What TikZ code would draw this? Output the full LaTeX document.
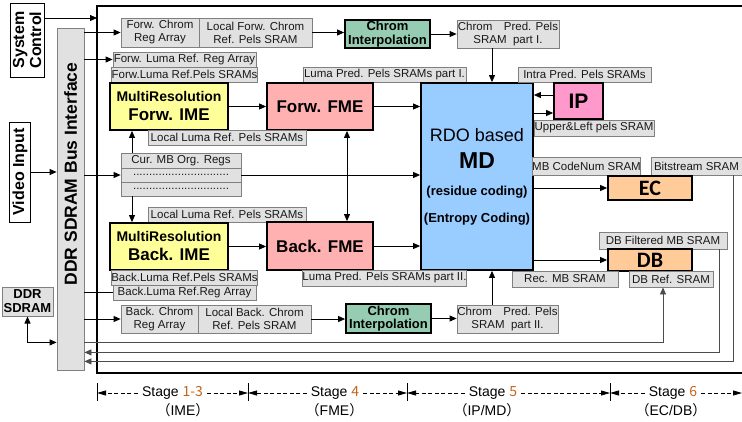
\documentclass[tikz,border=0pt]{standalone}
\usepackage{fontspec}
\setmainfont{Liberation Sans}
\newfontfamily\cjkfont{Noto Sans CJK SC}
\newfontfamily\calfont{Carlito}
\usepackage{xcolor}
\usetikzlibrary{arrows.meta}

\definecolor{lblgray}{RGB}{225,225,225}
\definecolor{edgegray}{RGB}{128,128,128}
\definecolor{imeyellow}{RGB}{255,255,153}
\definecolor{fmepink}{RGB}{255,176,176}
\definecolor{rdoblue}{RGB}{153,204,255}
\definecolor{ippink}{RGB}{255,153,204}
\definecolor{ecorange}{RGB}{255,204,153}
\definecolor{cigreen}{RGB}{150,204,178}
\definecolor{stagenum}{RGB}{195,100,25}

\newcommand{\fsize}[2]{\fontsize{#1}{#2}\selectfont}
\newcommand{\stnum}[1]{{\cjkfont\color{stagenum}#1}}
\newcommand{\stparen}[1]{{\cjkfont （}#1{\cjkfont ）}}

\begin{document}
\begin{tikzpicture}[x=1pt,y=-1pt,
  >={Triangle[length=7pt,width=6pt]},
  lbl/.style={draw=edgegray,fill=lblgray,line width=0.8pt,inner sep=0pt,
    align=center,text=black!90,font=\fsize{11.5}{13}},
  blk/.style={draw,line width=1.8pt,inner sep=0pt,align=center},
  side/.style={draw,line width=1pt,rotate=90,inner sep=0pt,align=center,
    font=\bfseries\fsize{16}{17}},
  arr/.style={->,line width=0.8pt},
  back/.style={->,draw=black!70,line width=0.8pt},
  stg/.style={font=\fsize{14}{16},inner sep=4pt},
  stgarr/.style={-{Triangle[length=9pt,width=5pt]},dash pattern=on 4pt off 2.5pt,line width=0.8pt}]

\useasboundingbox (0,0) rectangle (742,421);

% frame of the encoder core
\draw[line width=2pt] (742,6) -| (97,373) -- (742,373);

% outside world and bus
\node[side,minimum width=74pt,minimum height=34pt] (sc) at (27,40) {System\\Control};
\node[side,minimum width=100pt,minimum height=21pt] (vi) at (20,172) {Video Input};
\node[draw=edgegray,fill=lblgray,line width=1pt,minimum width=51pt,minimum height=29pt,
  inner sep=0pt,align=center,font=\bfseries\fsize{13}{14}] (ddr) at (27.5,301.5) {DDR\\SDRAM};
\node[draw=edgegray,fill=lblgray,line width=0.8pt,minimum width=27pt,minimum height=342pt] (bus) at (70.5,199) {};
\node[rotate=90,font=\bfseries\fsize{17.5}{18}] (bustxt) at (70.5,174) {DDR SDRAM Bus Interface};
\coordinate (scin) at (97,18);

% forward chroma
\node[lbl,minimum width=78pt,minimum height=29pt] (fcra) at (160,32.5) {Forw. Chrom\\Reg Array};
\node[lbl,minimum width=113pt,minimum height=29pt] (lfcr) at (255.5,32.5) {Local Forw. Chrom\\Ref. Pels SRAM};
\node[blk,fill=cigreen,minimum width=85pt,minimum height=28pt,font=\bfseries\fsize{13}{13.5}] (ci1) at (387.5,34) {Chrom\\Interpolation};
\node[lbl,minimum width=102pt,minimum height=28pt] (cpp1) at (508,34) {Chrom\quad Pred. Pels\\SRAM\ \ part I.};

% forward luma
\node[lbl,minimum width=143pt,minimum height=15pt] (flrr) at (184.5,59.5) {Forw. Luma Ref. Reg Array};
\node[lbl,minimum width=143pt,minimum height=15pt] (flrp) at (184.5,74.5) {Forw.Luma Ref.Pels SRAMs};
\node[lbl,minimum width=163pt,minimum height=15pt] (lpp1) at (384.5,74.5) {Luma Pred. Pels SRAMs part I.};
\node[blk,fill=imeyellow,minimum width=118pt,minimum height=47pt,font=\bfseries\fsize{14}{19}] (imef) at (169,106.5) {MultiResolution\\{\fsize{17}{19}Forw. IME}};
\node[blk,fill=fmepink,minimum width=106pt,minimum height=47pt,font=\bfseries\fsize{17}{19}] (fmef) at (320,106.5) {Forw. FME};
\node[lbl,minimum width=158pt,minimum height=15pt] (llf) at (227,137.5) {Local Luma Ref. Pels SRAMs};

% current MB
\node[lbl,minimum width=120pt,minimum height=15pt] (cmb1) at (181,160.5) {Cur. MB Org. Regs};
\node[lbl,minimum width=120pt,minimum height=14pt] (cmb2) at (181,175) {..............................};
\node[lbl,minimum width=120pt,minimum height=14pt] (cmb3) at (181,189) {..............................};

% mode decision and its neighbours
\node[blk,fill=rdoblue,minimum width=112pt,minimum height=187pt,font=\bfseries\fsize{13}{27}] (rdo) at (477,176.5)
  {{\mdseries\fsize{18}{27}RDO based}\\{\fsize{23}{27}MD}\\(residue coding)\\(Entropy Coding)};
\node[lbl,minimum width=133pt,minimum height=15pt] (ipps) at (584.5,74.5) {Intra Pred. Pels SRAMs};
\node[blk,fill=ippink,minimum width=49pt,minimum height=36pt,font=\bfseries\fsize{21}{22}] (ip) at (578.5,101) {IP};
\node[lbl,minimum width=120pt,minimum height=16pt] (ulps) at (594,128) {Upper\&Left\ pels SRAM};
\node[lbl,minimum width=105pt,minimum height=18pt] (mbcn) at (586.5,166) {MB CodeNum SRAM};
\node[lbl,minimum width=91pt,minimum height=18pt] (bits) at (696.5,166) {Bitstream SRAM};
\node[blk,fill=ecorange,minimum width=84pt,minimum height=24pt,font=\calfont\bfseries\fsize{22}{22}] (ec) at (650,188) {EC};
\node[lbl,minimum width=128pt,minimum height=17pt] (dbf) at (663,240.5) {DB Filtered MB SRAM};
\node[blk,fill=ecorange,minimum width=84pt,minimum height=22pt,font=\calfont\bfseries\fsize{22}{22}] (db) at (650,260) {DB};
\node[lbl,minimum width=106pt,minimum height=16pt] (recm) at (565,279) {Rec. MB SRAM};
\node[lbl,minimum width=84pt,minimum height=16pt] (dbrs) at (671,279) {DB Ref. SRAM};

% backward luma
\node[lbl,minimum width=158pt,minimum height=15pt] (llb) at (227,214.5) {Local Luma Ref. Pels SRAMs};
\node[blk,fill=imeyellow,minimum width=118pt,minimum height=47pt,font=\bfseries\fsize{14}{19}] (imeb) at (169,246.5) {MultiResolution\\{\fsize{17}{19}Back. IME}};
\node[blk,fill=fmepink,minimum width=106pt,minimum height=48pt,font=\bfseries\fsize{17}{19}] (fmeb) at (320,246) {Back. FME};
\node[lbl,minimum width=143pt,minimum height=15pt] (blrp) at (184.5,277.5) {Back.Luma Ref.Pels SRAMs};
\node[lbl,minimum width=143pt,minimum height=15pt] (blrr) at (184.5,292.5) {Back.Luma Ref.Reg Array};
\node[lbl,minimum width=163pt,minimum height=16pt] (lpp2) at (384.5,278) {Luma Pred. Pels SRAMs part II.};

% backward chroma
\node[lbl,minimum width=77pt,minimum height=28pt] (bcra) at (159.5,319) {Back. Chrom\\Reg Array};
\node[lbl,minimum width=113pt,minimum height=28pt] (lbcr) at (254.5,319) {Local Back. Chrom\\Ref. Pels SRAM};
\node[blk,fill=cigreen,minimum width=85pt,minimum height=29pt,font=\bfseries\fsize{13}{13.5}] (ci2) at (388.5,318.5) {Chrom\\Interpolation};
\node[lbl,minimum width=101pt,minimum height=28pt] (cpp2) at (507.5,319) {Chrom\quad Pred. Pels\\SRAM\ \ part II.};

% bus connections
\draw[arr] (sc.south |- scin) -- (scin);
\draw[arr] (vi.south) -- (vi.south -| bus.west);
\draw[arr,<->] (ddr.south) |- ([yshift=28pt]bus.south west);
\draw[arr] (bus.east |- fcra.west) -- (fcra.west);
\draw[arr] (bus.east |- flrr.west) -- (flrr.west);
\draw[arr] (bus.east |- cmb2.west) -- (cmb2.west);
\draw[line width=0.8pt] (bus.east |- blrr.west) -- (blrr.west);
\draw[arr] (bus.east |- bcra.west) -- (bcra.west);

% chroma paths
\draw[arr] (lfcr.east) -- (lfcr.east -| ci1.west);
\draw[arr] (ci1.east) -- (ci1.east -| cpp1.west);
\draw[arr] ([xshift=-16pt]cpp1.south) -- ([xshift=-16pt]cpp1.south |- rdo.north);
\draw[arr] (lbcr.east) -- (lbcr.east -| ci2.west);
\draw[arr] (ci2.east) -- (ci2.east -| cpp2.west);
\draw[arr] ([xshift=-15.5pt]cpp2.north) -- ([xshift=-15.5pt]cpp2.north |- rdo.south);

% luma paths
\draw[arr] ([xshift=-49pt]cmb1.north) -- ([xshift=-49pt]cmb1.north |- imef.south);
\draw[arr] ([xshift=-49pt]cmb3.south) -- ([xshift=-49pt]cmb3.south |- imeb.north);
\draw[arr] (imef.east) -- (imef.east -| fmef.west);
\draw[arr] (imeb.east) -- (imeb.east -| fmeb.west);
\draw[arr] (fmef.east) -- (fmef.east -| rdo.west);
\draw[arr] (fmeb.east) -- (fmeb.east -| rdo.west);
\draw[arr] (cmb2.east) -- (cmb2.east -| rdo.west);
\draw[arr,<->] ([xshift=27pt]fmef.south) -- ([xshift=27pt]fmeb.north);

% MD outputs
\draw[arr] ([yshift=6pt]ip.west) -- ([yshift=6pt]ip.west -| rdo.east);
\draw[arr] ([yshift=-12pt]ip.west -| rdo.east) -- ([yshift=-12pt]ip.west);
\draw[arr] (ec.west -| rdo.east) -- (ec.west);
\draw[arr] (db.west -| rdo.east) -- (db.west);

% back to the bus
\draw[back] ([yshift=28pt]bus.south east) -| ([xshift=-8pt]dbrs.south);
\draw[back] ([xshift=56pt]dbf.south) |- ([yshift=18pt]bus.south east);
\draw[back] ([xshift=36.5pt]bits.south) |- ([yshift=9pt]bus.south east);

% pipeline stages
\foreach \x/\n in {97/a,248/b,407/c,610/d}{
  \draw[line width=0.8pt] (\x,383) -- (\x,401);
  \coordinate (tk\n) at (\x,393);
}
\coordinate (tke) at (742,393);

\node[stg] (st1) at (172.5,393) {Stage \stnum{1-3}};
\node[stg] (pr1) at (183,410) {\stparen{IME}};
\node[stg] (st2) at (335,393) {Stage \stnum{4}};
\node[stg] (pr2) at (334.5,410) {\stparen{FME}};
\node[stg] (st3) at (493,393) {Stage \stnum{5}};
\node[stg] (pr3) at (487,410) {\stparen{IP/MD}};
\node[stg] (st4) at (673,393) {Stage \stnum{6}};
\node[stg] (pr4) at (671,410) {\stparen{EC/DB}};

\draw[stgarr] (st1.west) -- (tka);
\draw[stgarr] (st1.east) -- (tkb);
\draw[stgarr] (st2.west) -- (tkb);
\draw[stgarr] (st2.east) -- (tkc);
\draw[stgarr] (st3.west) -- (tkc);
\draw[stgarr] (st3.east) -- (tkd);
\draw[stgarr] (st4.west) -- (tkd);
\draw[stgarr] (st4.east) -- (tke);

\end{tikzpicture}
\end{document}
